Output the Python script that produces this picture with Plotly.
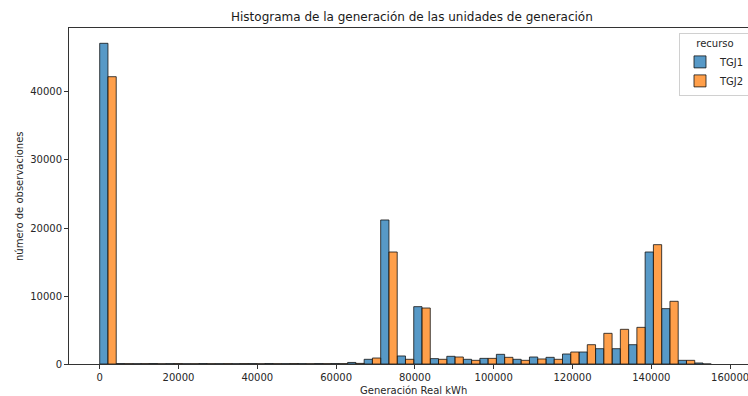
import plotly.graph_objects as go

# Histogram bins (kWh): equal-width bins starting at 0
bin_start = 0
bin_width = 4195
n_bins = 37

recursos = ["TGJ1", "TGJ2"]

# Observation counts per bin for each generating unit
tgj1_counts = [47160, 60, 45, 70, 55, 40, 65, 50, 45, 60, 70, 50, 55, 65, 60,
               230, 690, 21180, 1180, 8430, 790, 1130, 690, 830, 1420, 690,
               1030, 980, 1470, 1760, 2250, 2250, 2840, 16470, 8140, 540, 150]
tgj2_counts = [42250, 50, 55, 40, 60, 45, 50, 55, 60, 40, 50, 65, 45, 50, 55,
               90, 880, 16470, 690, 8230, 690, 1030, 540, 830, 980, 540,
               740, 690, 1760, 2840, 4510, 5100, 5390, 17550, 9220, 540, 0]

x_ticks = [0, 20000, 40000, 60000, 80000, 100000, 120000, 140000, 160000]
y_ticks = [0, 10000, 20000, 30000, 40000]

titulo = "Histograma de la generación de las unidades de generación"
x_label = "Generación Real kWh"
y_label = "número de observaciones"

colors = ["rgba(31,119,180,0.75)", "rgba(255,127,14,0.75)"]
edge = "rgba(20,20,20,0.8)"

bin_left = [bin_start + i * bin_width for i in range(n_bins)]
half = bin_width / 2

fig = go.Figure()
for k, (name, counts) in enumerate(zip(recursos, [tgj1_counts, tgj2_counts])):
    fig.add_trace(go.Bar(
        x=bin_left,
        y=counts,
        width=half,
        offset=k * half,
        name=name,
        marker=dict(color=colors[k], line=dict(color=edge, width=1)),
    ))

axis_font = dict(family="DejaVu Sans", size=10, color="#262626")

fig.update_layout(
    width=748,
    height=396,
    margin=dict(l=69, r=0, t=28, b=32, autoexpand=False),
    paper_bgcolor="white",
    plot_bgcolor="white",
    barmode="overlay",
    showlegend=True,
    font=dict(family="DejaVu Sans", size=10, color="#262626"),
    title=dict(
        text=titulo,
        x=0.505, xref="paper", xanchor="center",
        y=1 - 17 / 396, yref="container", yanchor="middle",
        font=dict(family="DejaVu Sans", size=12, color="#1a1a1a"),
    ),
    legend=dict(
        title=dict(text="recurso", side="top center",
                   font=dict(family="DejaVu Sans", size=10, color="#262626")),
        x=(679 - 69) / 679, xanchor="left",
        y=0.984, yanchor="top",
        bgcolor="white",
        bordercolor="#d0d0d0",
        borderwidth=1,
        font=dict(family="DejaVu Sans", size=10, color="#262626"),
        tracegroupgap=0,
        itemwidth=30,
    ),
    xaxis=dict(
        range=[-7790, 164540],
        tickvals=x_ticks,
        tickformat="d",
        ticklabeloverflow="allow",
        ticks="outside", ticklen=4, tickwidth=1, tickcolor="#333333",
        showline=True, linecolor="#333333", linewidth=1, mirror=True,
        showgrid=False, zeroline=False,
        tickfont=axis_font,
    ),
    yaxis=dict(
        range=[0, 49410],
        tickvals=y_ticks,
        tickformat="d",
        ticks="outside", ticklen=4, tickwidth=1, tickcolor="#333333",
        showline=True, linecolor="#333333", linewidth=1,
        showgrid=False, zeroline=False,
        tickfont=axis_font,
    ),
    annotations=[
        dict(text=x_label, xref="paper", yref="paper",
             x=(413 - 69) / 679, y=(364 - 390) / 336,
             xanchor="center", yanchor="middle", showarrow=False,
             font=dict(family="DejaVu Sans", size=10, color="#262626")),
        dict(text=y_label, xref="paper", yref="paper",
             x=(19 - 69) / 679, y=0.5, textangle=-90,
             xanchor="center", yanchor="middle", showarrow=False,
             font=dict(family="DejaVu Sans", size=10, color="#262626")),
    ],
)

fig.write_html("out.html")
